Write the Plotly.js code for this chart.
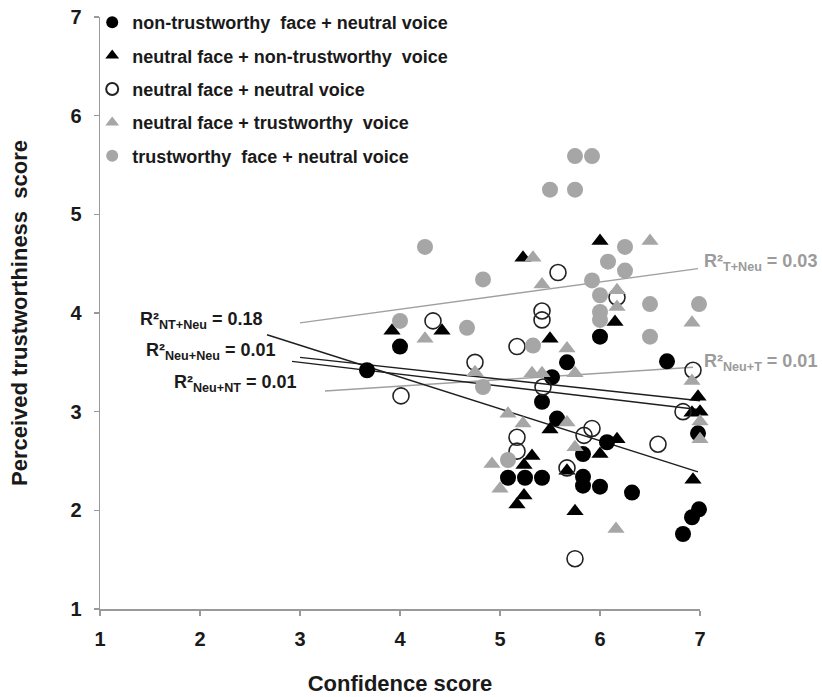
<!DOCTYPE html>
<html>
<head>
<meta charset="utf-8">
<script src="https://cdn.plot.ly/plotly-3.0.1.min.js"></script>
<style>html,body{margin:0;padding:0;background:#fff;}#chart{width:822px;height:697px;}</style>
</head>
<body>
<div id="chart"></div>
<script>
// Series names
const seriesNames = [
  "non-trustworthy  face + neutral voice",
  "neutral face + non-trustworthy  voice",
  "neutral face + neutral voice",
  "neutral face + trustworthy  voice",
  "trustworthy  face + neutral voice"
];

// non-trustworthy face + neutral voice (black circles)
const ntFaceX = [3.67,4.00,5.42,5.52,5.57,5.67,6.00,6.67,5.08,5.25,5.42,5.83,5.83,5.83,6.00,6.32,6.07,6.98,6.83,6.92,6.99];
const ntFaceY = [3.42,3.66,3.10,3.35,2.93,3.50,3.76,3.51,2.33,2.33,2.33,2.57,2.34,2.25,2.24,2.18,2.69,2.78,1.76,1.93,2.01];

// neutral face + non-trustworthy voice (black triangles)
const ntVoiceX = [3.92,4.42,5.23,5.50,6.00,6.15,6.98,6.92,7.00,6.93,5.50,5.32,5.24,5.24,5.17,5.75,5.67,6.00,6.17];
const ntVoiceY = [3.82,3.82,4.56,3.74,4.73,3.91,3.15,2.99,3.00,2.31,2.82,2.55,2.46,2.15,2.06,1.99,2.40,2.57,2.72];

// neutral face + neutral voice (open circles)
const neuNeuX = [4.01,4.33,4.75,5.17,5.42,5.42,5.43,5.58,6.17,6.93,6.83,7.02,5.17,5.17,5.92,5.84,5.67,6.58,5.75];
const neuNeuY = [3.16,3.92,3.50,3.66,4.02,3.93,3.25,4.41,4.16,3.42,3.00,3.08,2.74,2.60,2.83,2.76,2.43,2.67,1.51];

// neutral face + trustworthy voice (grey triangles)
const tVoiceX = [4.25,4.75,5.33,5.42,5.32,5.42,5.67,5.75,6.17,6.17,6.50,6.92,6.92,7.00,7.00,5.08,5.23,5.67,5.75,4.92,5.00,6.16];
const tVoiceY = [3.74,3.40,4.56,4.29,3.39,3.39,3.64,3.39,4.23,4.06,4.73,3.90,3.31,2.90,2.72,2.98,2.88,2.89,2.64,2.47,2.22,1.81];

// trustworthy face + neutral voice (grey circles)
const tFaceX = [5.75,5.92,5.50,5.75,4.25,4.83,6.25,6.08,6.25,5.92,6.00,6.00,6.00,6.50,6.99,6.50,4.00,4.67,5.33,4.83,5.08];
const tFaceY = [5.59,5.59,5.25,5.25,4.67,4.34,4.67,4.52,4.43,4.33,4.18,4.01,3.93,4.09,4.09,3.76,3.92,3.85,3.67,3.25,2.51];

// Trend lines (end points)
const lineNTNeuX = [2.67,6.98];  const lineNTNeuY = [3.78,2.39];
const lineNeuNeuX = [3.00,7.00]; const lineNeuNeuY = [3.55,3.11];
const lineNeuNTX = [2.92,7.00];  const lineNeuNTY = [3.51,3.02];
const lineTNeuX = [3.00,6.98];   const lineTNeuY = [3.90,4.45];
const lineNeuTX = [3.25,6.93];   const lineNeuTY = [3.21,3.45];

// R² labels
const r2Labels = [
  {text:"R²<sub>NT+Neu</sub> = 0.18", x:2.64, y:3.925, anchor:"right", grey:false},
  {text:"R²<sub>Neu+Neu</sub> = 0.01", x:2.78, y:3.61, anchor:"right", grey:false},
  {text:"R²<sub>Neu+NT</sub> = 0.01", x:2.98, y:3.287, anchor:"right", grey:false},
  {text:"R²<sub>T+Neu</sub> = 0.03", x:7.00, y:4.516, anchor:"left", grey:true},
  {text:"R²<sub>Neu+T</sub> = 0.01", x:7.00, y:3.503, anchor:"left", grey:true}
];

const tickVals = [1,2,3,4,5,6,7];
const xTitle = "Confidence score";
const yTitle = "Perceived trustworthiness  score";

const BLACK = "#000000";
const GREY = "#a6a6a6";
const LINE_BLACK = "#1e1e1e";
const LINE_GREY = "#a0a0a0";
const TEXT_BLACK = "#1a1a1a";
const TEXT_GREY = "#9b9b9b";
const FONT = "Liberation Sans, Arial, sans-serif";

function lineTrace(x, y, color) {
  return {x:x, y:y, type:"scatter", mode:"lines", showlegend:false, hoverinfo:"skip",
    line:{color:color, width:1.4}, cliponaxis:false};
}
function markerTrace(x, y, name, symbol, color, lineColor, group) {
  return {x:x, y:y, type:"scatter", mode:"markers", name:name, legendgroup:group,
    cliponaxis:false,
    marker:{symbol:symbol, size: symbol.indexOf("triangle")===0 ? 15 : 16, color:color,
      line:{color:lineColor, width: symbol==="circle-open" ? 1.6 : 0}}};
}

const traces = [
  lineTrace(lineTNeuX, lineTNeuY, LINE_GREY),
  lineTrace(lineNeuTX, lineNeuTY, LINE_GREY),
  lineTrace(lineNTNeuX, lineNTNeuY, LINE_BLACK),
  lineTrace(lineNeuNeuX, lineNeuNeuY, LINE_BLACK),
  lineTrace(lineNeuNTX, lineNeuNTY, LINE_BLACK),
  markerTrace(ntFaceX, ntFaceY, seriesNames[0], "circle", BLACK, BLACK, "g1"),
  markerTrace(ntVoiceX, ntVoiceY, seriesNames[1], "triangle-up", BLACK, BLACK, "g2"),
  markerTrace(neuNeuX, neuNeuY, seriesNames[2], "circle-open", "#222222", "#222222", "g3"),
  markerTrace(tVoiceX, tVoiceY, seriesNames[3], "triangle-up", GREY, GREY, "g4"),
  markerTrace(tFaceX, tFaceY, seriesNames[4], "circle", GREY, GREY, "g5")
];

const annotations = r2Labels.map(l => ({
  x:l.x, y:l.y, xref:"x", yref:"y", text:l.text, showarrow:false,
  xanchor:l.anchor, yanchor:"middle", xshift: l.anchor === "left" ? 2 : 0,
  font:{family:FONT, size:18, weight:"bold", color: l.grey ? TEXT_GREY : TEXT_BLACK}
}));

const axisCommon = {
  range:[1,7], tickvals:tickVals, ticktext:tickVals.map(String),
  showgrid:false, zeroline:false, showline:true, linecolor:"#9a9a9a", linewidth:1.5,
  ticks:"outside", ticklen:5, tickcolor:"#9a9a9a", tickwidth:1.5,
  tickfont:{family:FONT, size:20, weight:"bold", color:TEXT_BLACK},
  fixedrange:true
};

const layout = {
  width:822, height:697,
  margin:{l:100, r:122, t:17, b:88, autoexpand:false},
  paper_bgcolor:"#ffffff", plot_bgcolor:"#ffffff",
  showlegend:true,
  legend:{x:-0.013, y:1.022, xanchor:"left", yanchor:"top", bgcolor:"rgba(0,0,0,0)",
    tracegroupgap:7, itemsizing:"constant",
    font:{family:FONT, size:18, weight:"bold", color:TEXT_BLACK}},
  xaxis:Object.assign({}, axisCommon, {
    ticklabelstandoff:6,
    title:{text:xTitle, standoff:27, font:{family:FONT, size:22, weight:"bold", color:TEXT_BLACK}}
  }),
  yaxis:Object.assign({}, axisCommon, {
    ticklabelstandoff:8,
    title:{text:yTitle, standoff:36, font:{family:FONT, size:22, weight:"bold", color:TEXT_BLACK}}
  }),
  annotations:annotations
};

Plotly.newPlot("chart", traces, layout, {staticPlot:true, displayModeBar:false});
</script>
</body>
</html>
